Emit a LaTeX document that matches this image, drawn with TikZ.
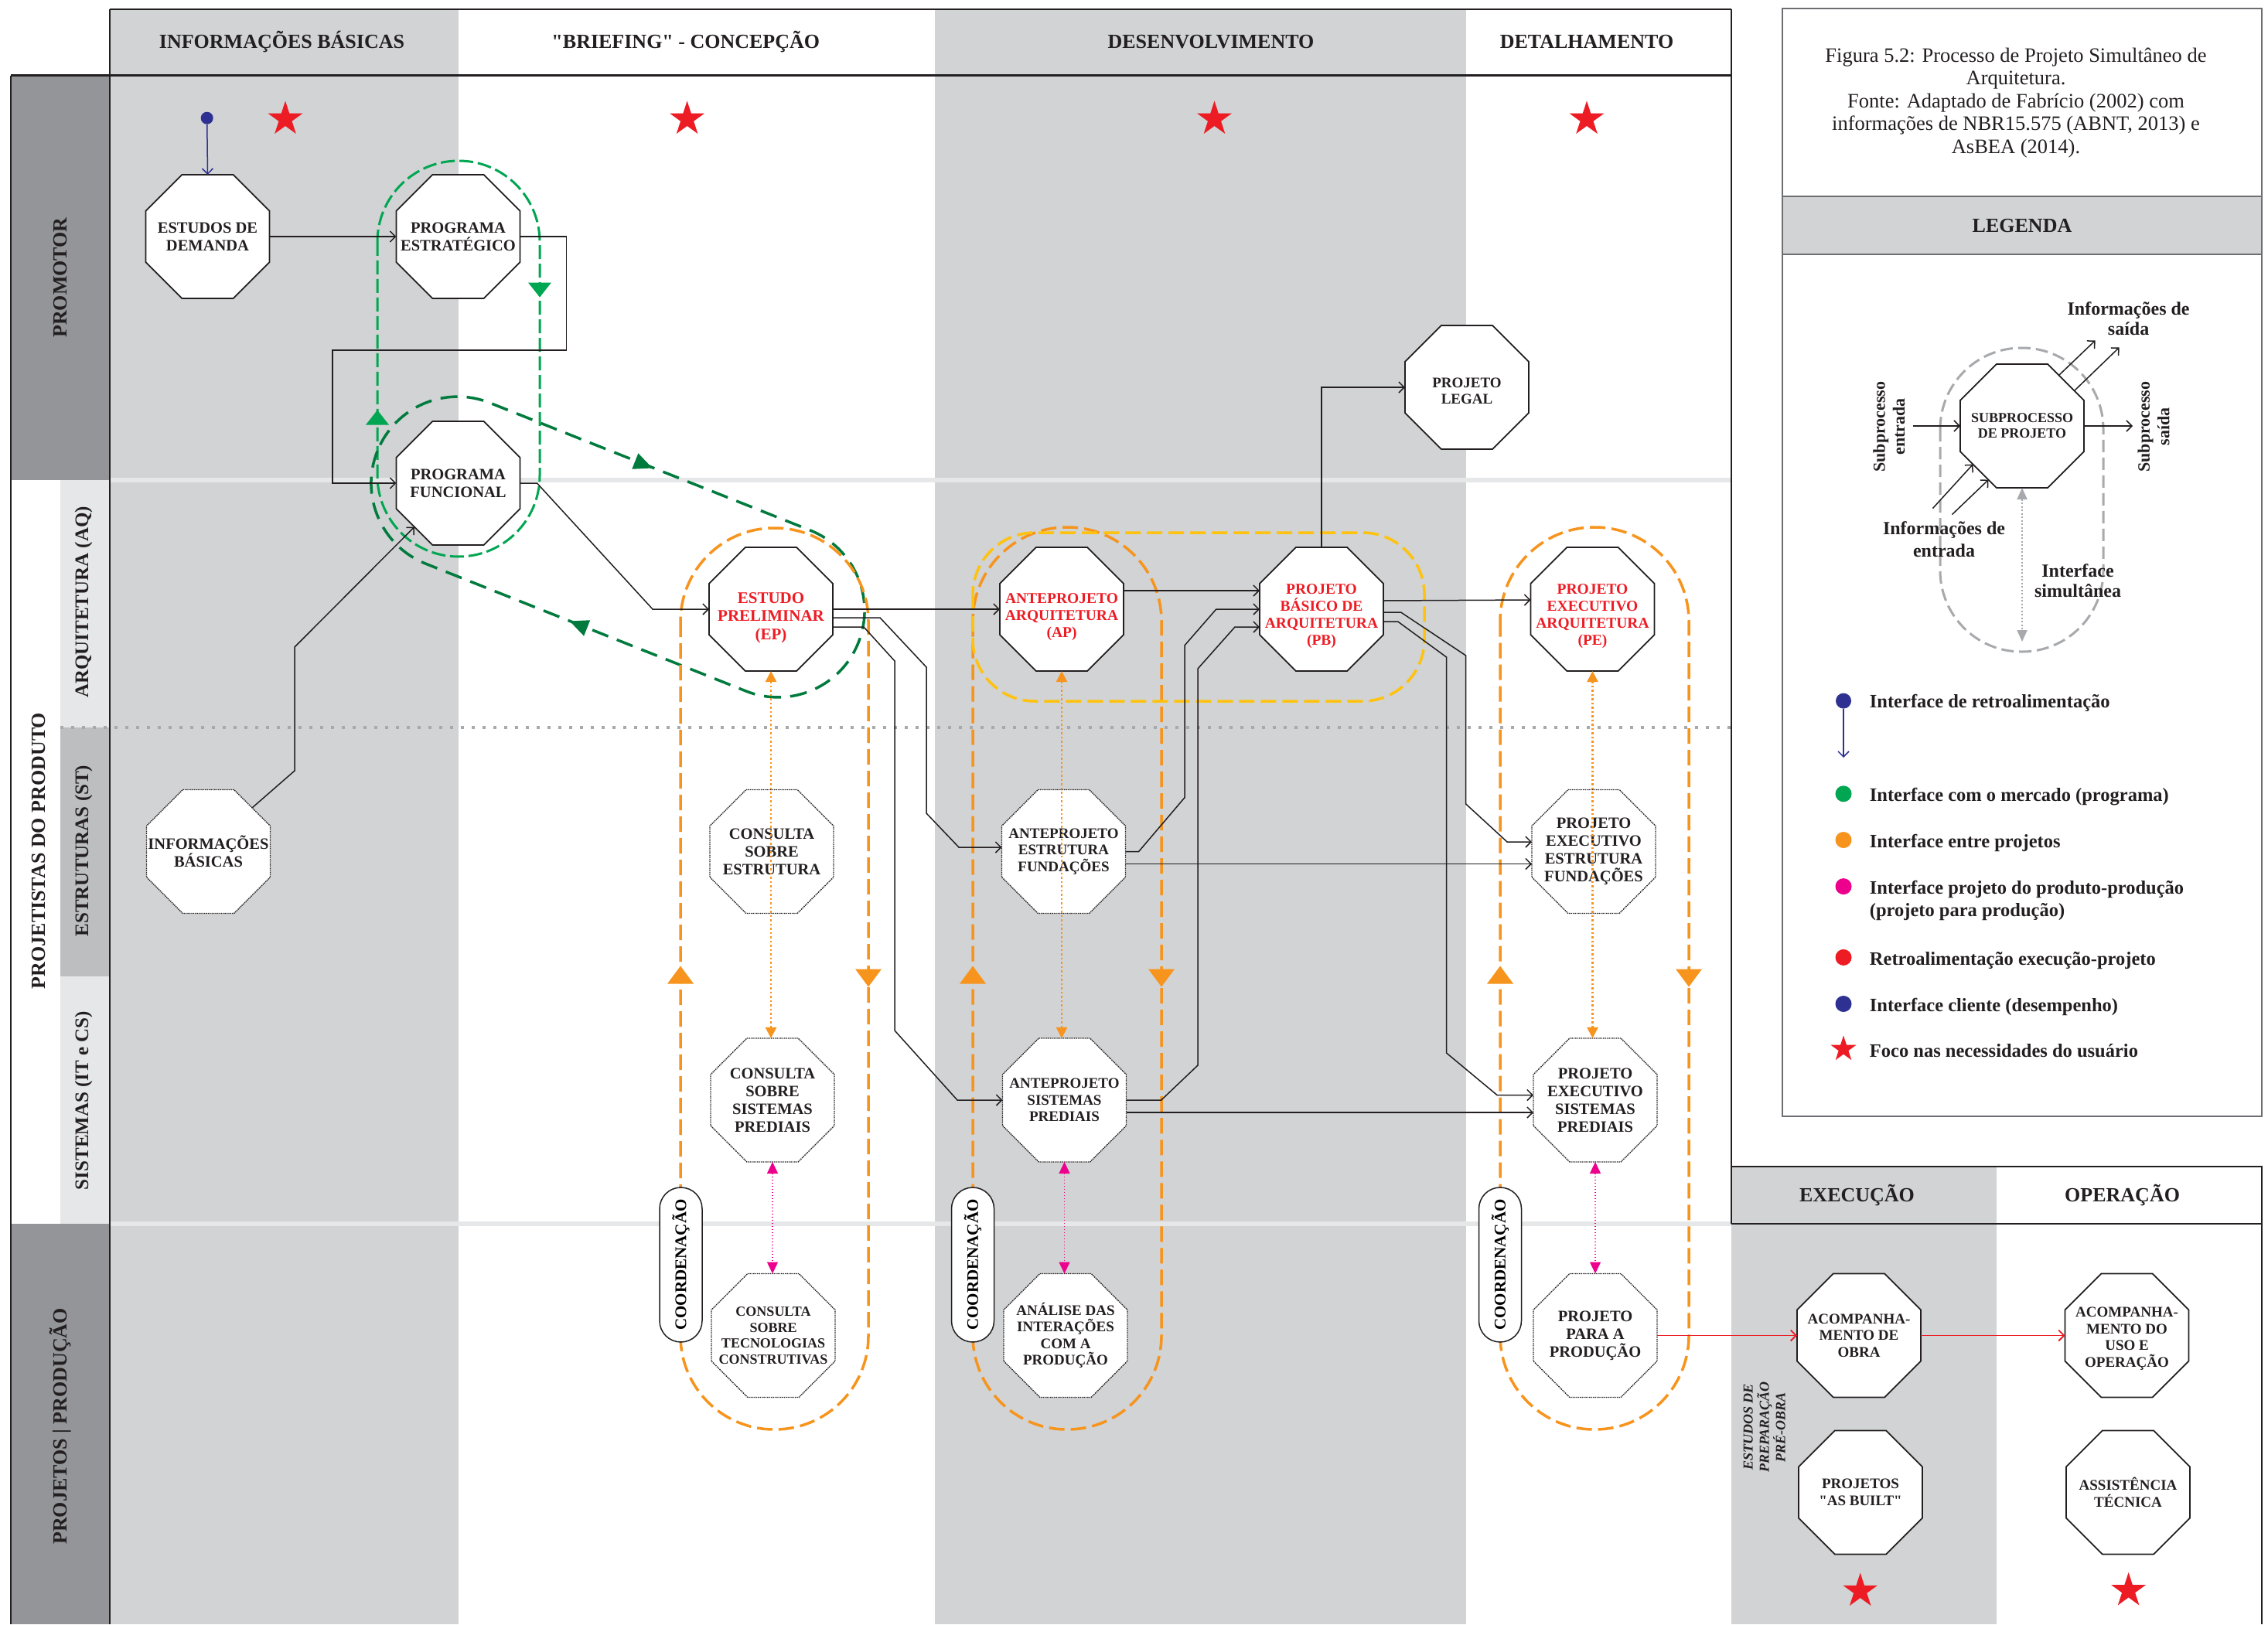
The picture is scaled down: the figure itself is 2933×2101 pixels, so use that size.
\documentclass[tikz,border=0pt]{standalone}
\usepackage{fontspec}
\setmainfont{Liberation Serif}
\usetikzlibrary{arrows.meta,shapes.geometric,shapes.misc,calc}

\definecolor{colgray}{HTML}{D1D3D4}
\definecolor{lanedark}{HTML}{939598}
\definecolor{lanemid}{HTML}{BCBEC0}
\definecolor{lanelight}{HTML}{E6E7E8}
\definecolor{ora}{HTML}{F7941D}
\definecolor{grn}{HTML}{00A651}
\definecolor{dgrn}{HTML}{007A3D}
\definecolor{yel}{HTML}{FFC20E}
\definecolor{mag}{HTML}{EC008C}
\definecolor{rd}{HTML}{ED1C24}
\definecolor{navy}{HTML}{2E3192}
\definecolor{lgray}{HTML}{A7A9AC}
\definecolor{boxgray}{HTML}{6D6E71}
\definecolor{ink}{HTML}{231F20}

\newcommand\fsz[2]{\fontsize{#1}{#2}\selectfont}
% octagon node: style, text style, name, position, text
\newcommand\octnode[5]{\node[#1,label={[#2]center:{#5}}] (#3) at (#4) {};}
% filled triangle: colour, centre, direction, length, width
\newcommand\ftri[5]{\fill[#1,shift={(#2)},rotate=#3] (#4/2,0) -- (-#4/2,#5/2) -- (-#4/2,-#5/2) -- cycle;}

\tikzset{
  oct/.style={regular polygon, regular polygon sides=8, minimum size=173.2pt,
    inner sep=0pt, outer sep=0pt, draw=ink, line width=1.8pt, fill=white},
  octd/.style={oct, line width=1.4pt, densely dotted},
  tA/.style={font=\bfseries\fsz{20.5}{23}, align=center, inner sep=0pt, text=ink},
  tB/.style={font=\bfseries\fsz{19}{21.5}, align=center, inner sep=0pt, text=ink},
  tC/.style={font=\bfseries\fsz{18}{20.5}, align=center, inner sep=0pt, text=ink},
  tR/.style={font=\bfseries\fsz{19.5}{22}, align=center, inner sep=0pt, text=rd},
  hdr/.style={font=\bfseries\fsz{26}{28}, anchor=base, inner sep=0pt, text=ink},
  lane/.style={font=\bfseries\fsz{26}{28}, rotate=90, inner sep=0pt, text=ink},
  sublane/.style={font=\bfseries\fsz{25}{27}, rotate=90, inner sep=0pt, text=ink},
  ustar/.style={star, star points=5, star point ratio=2.618, fill=rd, minimum size=47pt, inner sep=0pt},
  conn/.style={draw=ink, line width=1.5pt, -{Straight Barb[length=7pt,width=14pt]}},
  redconn/.style={draw=rd, line width=1.8pt, -{Straight Barb[length=7pt,width=14pt]}},
  orcap/.style={draw=ora, line width=3.5pt, dash pattern=on 20pt off 8pt},
  pill/.style={rounded rectangle, draw=ink, line width=1.5pt, fill=white, rotate=90,
    minimum width=200pt, minimum height=55pt, inner sep=0pt, font=\bfseries\fsz{21}{23}},
  ordot/.style={draw=ora, line width=2.2pt, dash pattern=on 2.5pt off 3pt,
    {Triangle[length=14pt,width=14pt]}-{Triangle[length=14pt,width=14pt]}},
  magdot/.style={draw=mag, line width=1.5pt, dash pattern=on 1.5pt off 2.5pt,
    {Triangle[length=15pt,width=14pt]}-{Triangle[length=15pt,width=14pt]}},
  legtxt/.style={font=\bfseries\fsz{24.5}{29}, inner sep=0pt, text=ink},
  legdot/.style={circle, minimum size=21pt, inner sep=0pt},
}

\begin{document}
\begin{tikzpicture}[x=1pt,y=-1pt]
\useasboundingbox (0,0) rectangle (2933,2101);
\fill[white] (0,0) rectangle (2933,2101);

% ---------- phase columns ----------
\fill[colgray] (141.5,11.7) rectangle (593,2101);
\fill[colgray] (1209.4,11.7) rectangle (1895.7,2101);
\fill[colgray] (2238.5,1508.5) rectangle (2582.4,2101);

% ---------- actor lanes ----------
\fill[lanedark] (14,97.7) rectangle (141.5,620.5);
\fill[lanelight] (78,620.5) rectangle (141.5,941);
\fill[lanemid] (78,941) rectangle (141.5,1262.7);
\fill[lanelight] (78,1262.7) rectangle (141.5,1582.5);
\fill[lanedark] (14,1582.5) rectangle (141.5,2101);

\draw[lanelight, line width=6pt] (141.5,620.5) -- (2238.5,620.5);
\draw[lanelight, line width=6pt] (141.5,1582.5) -- (2238.5,1582.5);
\draw[lgray, line width=4pt, dash pattern=on 4pt off 10pt] (78,941) -- (2238.5,941);

% ---------- frame ----------
\draw[ink, line width=2pt] (141.5,11.7) -- (2238.5,11.7);
\draw[ink, line width=2.5pt] (14,97.7) -- (2238.5,97.7);
\draw[ink, line width=2pt] (14,97.7) -- (14,2101);
\draw[ink, line width=2pt] (141.5,11.7) -- (141.5,2101);
\draw[ink, line width=2pt] (2238.5,11.7) -- (2238.5,1583);
\draw[ink, line width=2pt] (2238.5,1508.5) -- (2925,1508.5) -- (2925,2101);
\draw[ink, line width=2.5pt] (2238.5,1583) -- (2925,1583);

% ---------- headers ----------
\node[hdr] (h1) at (364.5,62.7) {INFORMAÇÕES BÁSICAS};
\node[hdr] (h2) at (886.8,62.7) {\textquotedbl BRIEFING\textquotedbl\ - CONCEPÇÃO};
\node[hdr] (h3) at (1566,62.7) {DESENVOLVIMENTO};
\node[hdr] (h4) at (2052,62.7) {DETALHAMENTO};
\node[hdr] (h5) at (2401.5,1554.5) {EXECUÇÃO};
\node[hdr] (h6) at (2744.6,1554.5) {OPERAÇÃO};

\node[lane] (l1) at (78,359) {PROMOTOR};
\node[lane] (l2) at (50,1100.5) {PROJETISTAS DO PRODUTO};
\node[sublane] (l3) at (108,779) {ARQUITETURA (AQ)};
\node[sublane] (l4) at (108,1100.5) {ESTRUTURAS (ST)};
\node[sublane] (l5) at (108,1423.5) {SISTEMAS (IT e CS)};
\node[lane] (l6) at (78,1845) {PROJETOS | PRODUÇÃO};

% ---------- user focus stars ----------
\node[ustar] (s1) at (369,154) {};
\node[ustar] (s2) at (888.6,154) {};
\node[ustar] (s3) at (1570.5,154) {};
\node[ustar] (s4) at (2052,154) {};
\node[ustar] (s5) at (2405.7,2058) {};
\node[ustar] (s6) at (2752.6,2057.4) {};

% ---------- interface loops ----------
\draw[grn, line width=3pt, dash pattern=on 18pt off 6pt, rounded corners=104.9pt] (488,208) rectangle (698,720);
\ftri{grn}{698,375}{-90}{19}{30}
\ftri{grn}{488,540}{90}{19}{30}

\begin{scope}[shift={(799,707.5)}, rotate=-21.7]
  \draw[dgrn, line width=3.5pt, dash pattern=on 22pt off 12pt, rounded corners=111.9pt] (-334.8,-112) rectangle (334.8,112);
\end{scope}
\ftri{dgrn}{832.5,601}{-21.7}{24}{22}
\ftri{dgrn}{748,808}{158.3}{24}{22}

\draw[orcap, rounded corners=121pt] (880,683) rectangle (1123,1849);
\draw[orcap, rounded corners=121.5pt] (1258,682) rectangle (1502,1849);
\draw[orcap, rounded corners=121.5pt] (1940,682) rectangle (2184,1849);
\foreach \xa/\xb in {880/1123, 1258/1502, 1940/2184}{
  \ftri{ora}{\xa,1261}{90}{23}{34}
  \ftri{ora}{\xb,1265}{-90}{23}{34}
}

\draw[yel, line width=3.5pt, dash pattern=on 20pt off 8pt, rounded corners=80pt] (1258,689) rectangle (1842,907);

% ---------- subprocesses ----------
\octnode{oct}{tA}{ed}{268.5,306}{ESTUDOS DE\\DEMANDA}
\octnode{oct}{tA}{pe1}{592.5,306}{PROGRAMA\\ESTRATÉGICO}
\octnode{oct}{tA}{pf}{592.5,625}{PROGRAMA\\FUNCIONAL}
\octnode{octd}{tA}{ib}{269.5,1101.5}{INFORMAÇÕES\\BÁSICAS}

\octnode{oct}{tR,font=\bfseries\fsz{21}{23.5},yshift=-11pt}{ep}{997,788}{ESTUDO\\PRELIMINAR\\(EP)}
\octnode{octd}{tA}{cse}{998,1101.5}{CONSULTA\\SOBRE\\ESTRUTURA}
\octnode{octd}{tA}{css}{999,1423}{CONSULTA\\SOBRE\\SISTEMAS\\PREDIAIS}
\octnode{octd}{tC}{cst}{1000,1727.5}{CONSULTA\\SOBRE\\TECNOLOGIAS\\CONSTRUTIVAS}

\octnode{oct}{tR,yshift=-10pt}{ap}{1373,788}{ANTEPROJETO\\ARQUITETURA\\(AP)}
\octnode{octd}{tB}{ape}{1375.5,1101.5}{ANTEPROJETO\\ESTRUTURA\\FUNDAÇÕES}
\octnode{octd}{tB}{aps}{1376.5,1423}{ANTEPROJETO\\SISTEMAS\\PREDIAIS}
\octnode{octd}{tB}{aip}{1378,1727.5}{ANÁLISE DAS\\INTERAÇÕES\\COM A\\PRODUÇÃO}

\octnode{oct}{tR,yshift=-9pt}{pb}{1709,788}{PROJETO\\BÁSICO DE\\ARQUITETURA\\(PB)}
\octnode{oct}{tB,yshift=-5pt}{pl}{1897,501}{PROJETO\\LEGAL}

\octnode{oct}{tR,yshift=-9pt}{pex}{2059.5,788}{PROJETO\\EXECUTIVO\\ARQUITETURA\\(PE)}
\octnode{octd}{tA}{pee}{2061,1101.5}{PROJETO\\EXECUTIVO\\ESTRUTURA\\FUNDAÇÕES}
\octnode{octd}{tA}{pes}{2063,1423}{PROJETO\\EXECUTIVO\\SISTEMAS\\PREDIAIS}
\octnode{octd}{tA}{ppp}{2063,1727.5}{PROJETO\\PARA A\\PRODUÇÃO}

\octnode{oct}{tB}{aco}{2404,1727.5}{ACOMPANHA-\\MENTO DE\\OBRA}
\octnode{oct}{tB}{asb}{2406,1930.5}{PROJETOS\\\textquotedbl AS BUILT\textquotedbl}
\octnode{oct}{tB,yshift=-4pt}{acu}{2750.5,1727.5}{ACOMPANHA-\\MENTO DO\\USO E\\OPERAÇÃO}
\octnode{oct}{tB}{ast}{2752,1930.5}{ASSISTÊNCIA\\TÉCNICA}

\node[font=\bfseries\itshape\fsz{18}{21}, align=center, rotate=90, inner sep=0pt, text=ink] (pre) at (2281.8,1846) {ESTUDOS DE\\PREPARAÇÃO\\PRÉ-OBRA};

% ---------- information flows ----------
\node[circle, fill=navy, minimum size=16pt, inner sep=0pt] (fb) at (267.7,152.7) {};
\draw[draw=navy, line width=1.5pt, -{Straight Barb[length=7pt,width=14pt]}] (fb) -- (ed.north);

\draw[conn] (ed.east) -- (pe1.west);
\draw[conn] (pe1.east) -- ++(60,0) |- (430,453) |- (pf.west);
\draw[conn] (ib.north east) -- (381,997) -- (381,837) -- (pf.south west);
\draw[conn] (pf.east) -- ++(22,0) -- (844,788) -- (ep.west);

\draw[conn] (ep.east) -- (ap.west);
\draw[conn] ($(ep.east)+(0,11)$) -- (1138,799) -- (1198,863) -- (1198,1052) -- (1240,1096) -- ($(ape.west)+(0,-5.5)$);
\draw[conn] ($(ep.east)+(0,23)$) -- (1117,811) -- (1157,855) -- (1157,1333) -- (1238,1423) -- (aps.west);

\draw[conn] ($(ap.east)+(0,-24)$) -- ($(pb.west)+(0,-24)$);
\draw[conn] (ape.east) -- (1472.6,1101.5) -- (1532,1031.7) -- (1532,834.8) -- (1572.8,788) -- (pb.west);
\draw[conn] (aps.east) -- (1501.7,1423) -- (1549,1378) -- (1549,865) -- (1597,811) -- ($(pb.west)+(0,23)$);
\draw[conn] ($(ape.east)+(0,16)$) -- ($(pee.west)+(0,16)$);
\draw[conn] ($(aps.east)+(0,16)$) -- ($(pes.west)+(0,16)$);

\draw[conn] ($(pb.east)+(0,-11)$) -- ($(pex.west)+(0,-12)$);
\draw[conn] ($(pb.east)+(0,4)$) -- (1811.6,792) -- (1895.7,848) -- (1895.7,1040) -- (1949,1089) -- ($(pee.west)+(0,-12.5)$);
\draw[conn] ($(pb.east)+(0,16)$) -- (1807.7,804) -- (1870.5,850) -- (1870.5,1362) -- (1936,1416.5) -- ($(pes.west)+(0,-6.5)$);
\draw[conn] (pb.north) |- (pl.west);

\draw[redconn] (ppp.east) -- (aco.west);
\draw[redconn] (aco.east) -- (acu.west);

% simultaneous interfaces
\draw[ordot] (ep.south) -- (ep.south |- css.north);
\draw[ordot] (ap.south) -- (ap.south |- aps.north);
\draw[ordot] (pex.south) -- (pex.south |- pes.north);
\draw[magdot] (css.south) -- (css.south |- cst.north);
\draw[magdot] (aps.south) -- (aps.south |- aip.north);
\draw[magdot] (pes.south) -- (pes.south |- ppp.north);

% coordination tags
\node[pill] (co1) at (880.5,1636) {COORDENAÇÃO};
\node[pill] (co2) at (1258,1636) {COORDENAÇÃO};
\node[pill] (co3) at (1940,1636) {COORDENAÇÃO};

% ---------- caption and legend ----------
\fill[colgray] (2305,254) rectangle (2925,329);
\draw[boxgray, line width=2pt] (2305,11.5) rectangle (2925,1444);
\draw[boxgray, line width=2pt] (2305,254) -- (2925,254);
\draw[boxgray, line width=2pt] (2305,329) -- (2925,329);

\node[font=\fsz{26.5}{29.5}, align=center, anchor=north, inner sep=0pt, text=ink] (cap) at (2607,61.5)
  {Figura 5.2: Processo de Projeto Simultâneo de\\Arquitetura.\\Fonte: Adaptado de Fabrício (2002) com\\informações de NBR15.575 (ABNT, 2013) e\\AsBEA (2014).};
\node[font=\bfseries\fsz{26}{28}, inner sep=0pt, text=ink] (leg) at (2615,292) {LEGENDA};

% legend: generic subprocess
\draw[lgray, line width=3pt, dash pattern=on 16pt off 7pt, rounded corners=105pt] (2509,450) rectangle (2720,843);
\node[oct] (sub) at (2615,551) {};
\node[font=\bfseries\fsz{18}{20}, align=center, inner sep=0pt, text=ink] (subt) at (2615,551) {SUBPROCESSO\\DE PROJETO};
\draw[conn] (2473.6,551) coordinate (sin) -- (sub.west);
\draw[conn] (sub.east) -- (2758,551) coordinate (sout);
\draw[conn] ($(sub.north east)+(-9,-9)$) -- ++(47,-45);
\draw[conn] ($(sub.north east)+(11,11)$) -- ++(58,-56);
\draw[conn] ($(sub.south west)+(-59,50)$) -- ($(sub.south west)+(-7,-7)$);
\draw[conn] ($(sub.south west)+(-34,58)$) -- ($(sub.south west)+(13,13)$);
\draw[draw=lgray, line width=2pt, dash pattern=on 2pt off 2.5pt,
  {Triangle[length=15pt,width=13pt]}-{Triangle[length=15pt,width=13pt]}] (sub.south) -- ++(0,199);

\node[legtxt, font=\bfseries\fsz{24}{26.5}, align=center] (lo) at (2752.6,412) {Informações de\\saída};
\node[legtxt, font=\bfseries\fsz{24}{28.5}, align=center] (li) at (2514,697.5) {Informações de\\entrada};
\node[legtxt, font=\bfseries\fsz{24}{26.5}, align=center] (ls) at (2687,751) {Interface\\simultânea};
\node[legtxt, font=\bfseries\fsz{22}{25.5}, align=center, rotate=90] (lse) at (2442.7,552) {Subprocesso\\entrada};
\node[legtxt, font=\bfseries\fsz{22}{25.5}, align=center, rotate=90] (lss) at (2785,552) {Subprocesso\\saída};

% legend: interface types
\node[circle, fill=navy, minimum size=20pt, inner sep=0pt] (k1) at (2384,906.6) {};
\draw[draw=navy, line width=1.5pt, -{Straight Barb[length=7pt,width=14pt]}] (k1) -- (2384,980);
\node[legtxt, anchor=base west] (t1) at (2417.7,915) {Interface de retroalimentação};
\node[legdot, fill=grn] (k2) at (2384,1026.8) {};
\node[legtxt, anchor=base west] (t2) at (2417.7,1036.8) {Interface com o mercado (programa)};
\node[legdot, fill=ora] (k3) at (2384,1086.5) {};
\node[legtxt, anchor=base west] (t3) at (2417.7,1096.8) {Interface entre projetos};
\node[legdot, fill=mag] (k4) at (2384,1146.6) {};
\node[legtxt, anchor=north west, align=left] (t4) at (2417.7,1139) {Interface projeto do produto-produção\\(projeto para produção)};
\node[legdot, fill=rd] (k5) at (2384,1238.4) {};
\node[legtxt, anchor=base west] (t5) at (2417.7,1248) {Retroalimentação execução-projeto};
\node[legdot, fill=navy] (k6) at (2384,1298.5) {};
\node[legtxt, anchor=base west] (t6) at (2417.7,1308) {Interface cliente (desempenho)};
\node[ustar, minimum size=35pt] (k7) at (2384,1357) {};
\node[legtxt, anchor=base west] (t7) at (2417.7,1367.4) {Foco nas necessidades do usuário};

\end{tikzpicture}
\end{document}
